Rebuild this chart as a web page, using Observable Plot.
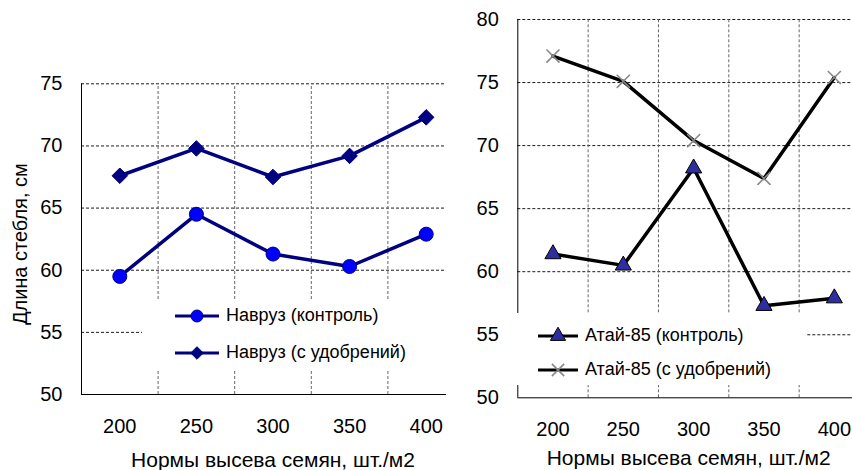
<!DOCTYPE html>
<html><head><meta charset="utf-8">
<script src="https://cdn.jsdelivr.net/npm/d3@7"></script>
<script src="https://cdn.jsdelivr.net/npm/@observablehq/plot@0.6"></script>
<style>
body{margin:0;background:#fff;}
#wrap{position:relative;width:852px;height:470px;overflow:hidden;background:#fff;font-family:"Liberation Sans",Arial,sans-serif;}
.panel{position:absolute;top:0;}
.legend{position:absolute;background:#fff;}
.item{position:absolute;display:flex;align-items:center;font-size:18px;color:#000;white-space:nowrap;}
.item svg{display:block;margin-right:7px;}
</style></head><body><div id="wrap"></div>
<script>
// ---- data ----
const rates = [200, 250, 300, 350, 400];
const navruzControl = [59.5, 64.5, 61.3, 60.3, 62.9];
const navruzFert = [67.6, 69.8, 67.5, 69.2, 72.3];
const ataiControl = [61.4, 60.5, 68.2, 57.3, 57.9];
const ataiFert = [77.1, 75.1, 70.4, 67.4, 75.4];
const leftYTicks = [50, 55, 60, 65, 70, 75];
const rightYTicks = [50, 55, 60, 65, 70, 75, 80];
const catBounds = [175, 225, 275, 325, 375, 425];
const yTitle = "Длина стебля, см";
const xTitle = "Нормы высева семян, шт./м2";
const legendLeft = ["Навруз (контроль)", "Навруз (с удобрений)"];
const legendRight = ["Атай-85 (контроль)", "Атай-85 (с удобрений)"];

const rows = (vals) => rates.map((r, i) => ({rate: r, v: vals[i]}));
const wrap = document.getElementById("wrap");
const font = '"Liberation Sans", Arial, sans-serif';

function panel({width, mL, mT, mB, yTicks, series, withYTitle, titleDx, titleDy}) {
  const yMin = yTicks[0], yMax = yTicks[yTicks.length - 1];
  const marks = [
    Plot.ruleY(yTicks.slice(1), {stroke: "#000", strokeWidth: 0.9, strokeDasharray: "3,2"}),
    Plot.ruleX(catBounds.slice(1, -1), {y1: yMin, y2: yMax, stroke: "#666", strokeWidth: 1, strokeDasharray: "3,2"}),
    Plot.ruleX([catBounds[0]], {y1: yMin, y2: yMax, stroke: "#000", strokeWidth: 1}),
    Plot.ruleY([yMin], {stroke: "#000", strokeWidth: 1}),
    Plot.axisY({ticks: yTicks, tickSize: 0, tickPadding: 19, fontSize: 20, label: null}),
    Plot.axisX({ticks: rates, tickSize: 0, tickPadding: 24, fontSize: 20, label: null, tickFormat: d => String(d)}),
    Plot.text([xTitle], {frameAnchor: "bottom", lineAnchor: "middle", textAnchor: "middle", dy: titleDy, dx: titleDx, fontSize: 21, fill: "#000"})
  ];
  if (withYTitle) marks.push(Plot.text([yTitle], {frameAnchor: "left", textAnchor: "middle", lineAnchor: "middle", dx: -61, dy: 5, rotate: -90, fontSize: 20, fill: "#000"}));
  for (const s of series) {
    marks.push(Plot.line(rows(s.values), {x: "rate", y: "v", stroke: s.line, strokeWidth: 3.5}));
    marks.push(Plot.dot(rows(s.values), {x: "rate", y: "v", symbol: s.symbol, r: s.r, fill: s.fill, stroke: s.stroke, strokeWidth: s.sw}));
  }
  return Plot.plot({
    width, height: 470,
    marginLeft: mL, marginRight: 0, marginTop: mT, marginBottom: mB,
    x: {type: "linear", domain: [catBounds[0], catBounds[catBounds.length - 1]]},
    y: {domain: [yMin, yMax]},
    style: {background: "#fff", fontFamily: font, color: "#000", overflow: "visible"},
    marks
  });
}

const navySeries = [
  {values: navruzControl, line: "#000080", symbol: "circle", r: 7, fill: "#0000ff", stroke: "#000080", sw: 1},
  {values: navruzFert, line: "#000080", symbol: "diamond2", r: 7, fill: "#000080", stroke: "#000080", sw: 1}
];
const blackSeries = [
  {values: ataiControl, line: "#000", symbol: "triangle", r: 6, fill: "#2e2e9e", stroke: "#000", sw: 1},
  {values: ataiFert, line: "#000", symbol: "times", r: 6, fill: "none", stroke: "#888", sw: 1.6}
];

const left = panel({width: 464, mL: 81, mT: 83.3, mB: 76, yTicks: leftYTicks, series: navySeries, withYTitle: true, titleDx: 0, titleDy: 66});
left.classList.add("panel"); left.style.left = "0px";
wrap.appendChild(left);

const right = panel({width: 423, mL: 71.3, mT: 19, mB: 72.7, yTicks: rightYTicks, series: blackSeries, withYTitle: false, titleDx: -5, titleDy: 60.5});
right.classList.add("panel"); right.style.left = "446px";
wrap.appendChild(right);

// ---- legends ----
function swatch(s, w) {
  const sym = {circle: d3.symbolCircle, diamond2: d3.symbolDiamond2, triangle: d3.symbolTriangle, times: d3.symbolTimes}[s.symbol];
  const area = s.symbol === "circle" ? Math.PI * 36 : 100;
  const p = d3.symbol(sym, area)();
  return `<svg width="${w}" height="18"><line x1="0" x2="${w}" y1="9" y2="9" stroke="${s.line}" stroke-width="3"/>` +
    `<path transform="translate(${w/2},9)" d="${p}" fill="${s.fill}" stroke="${s.stroke}" stroke-width="${s.sw}"/></svg>`;
}
function legend(box, items, series, offs, sw) {
  const d = document.createElement("div");
  d.className = "legend";
  Object.assign(d.style, {left: box[0] + "px", top: box[1] + "px", width: box[2] + "px", height: box[3] + "px"});
  items.forEach((t, i) => {
    const it = document.createElement("div");
    it.className = "item";
    it.style.left = offs[0] + "px";
    it.style.top = (offs[1] + i * offs[2]) + "px";
    it.innerHTML = swatch(series[i], sw) + `<span>${t}</span>`;
    d.appendChild(it);
  });
  wrap.appendChild(d);
}
legend([142, 300, 310, 70], legendLeft, navySeries, [33, 5, 37], 44);
legend([508, 313, 298, 72], legendRight, blackSeries, [30, 12, 34], 40);
</script></body></html>
